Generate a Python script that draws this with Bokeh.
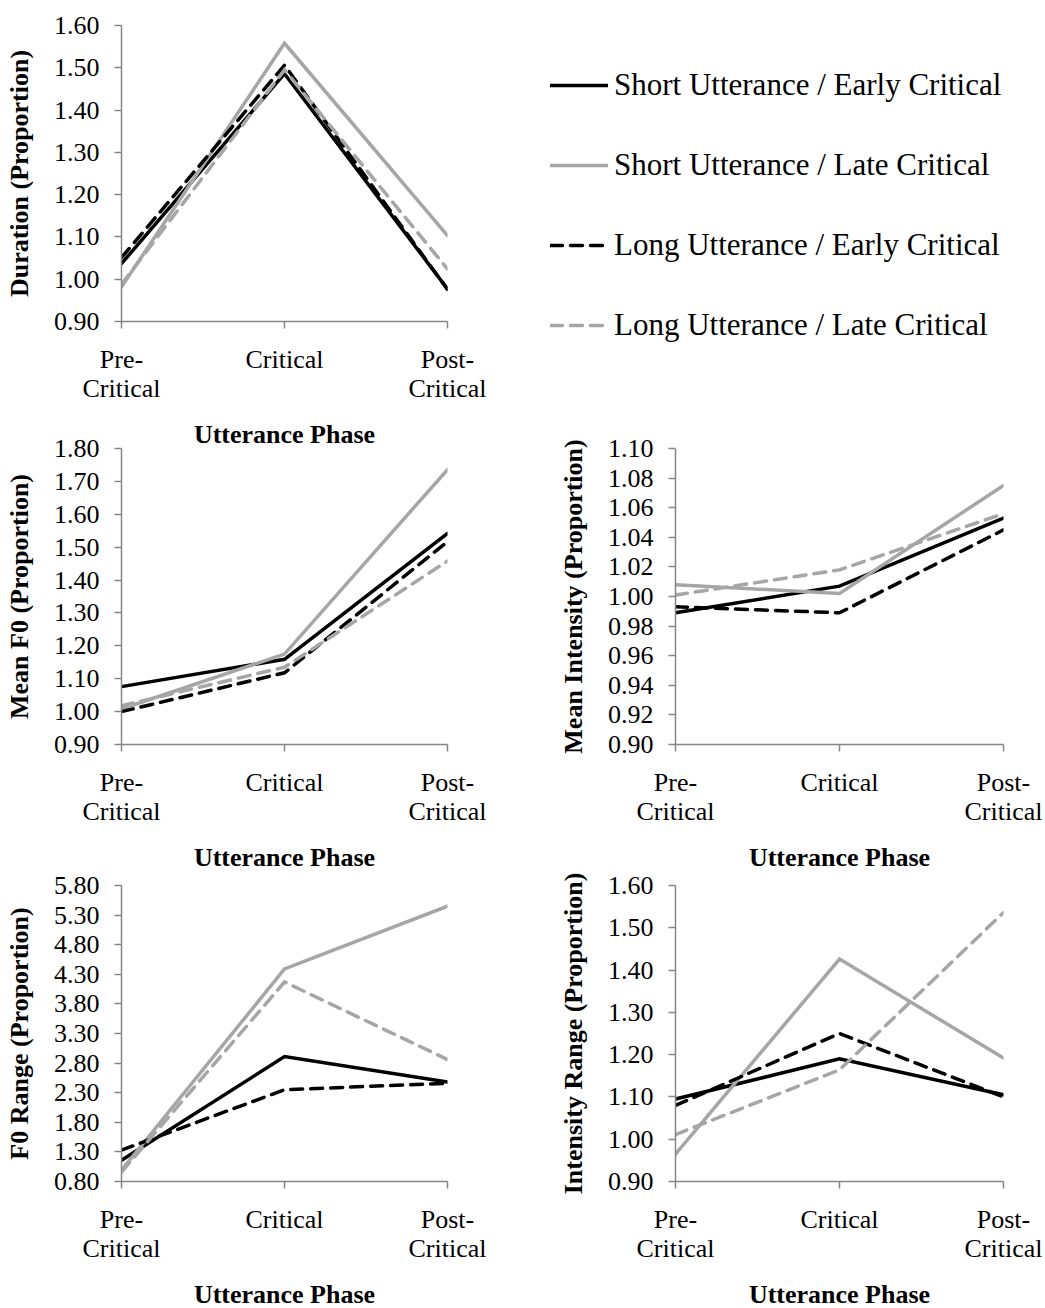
from bokeh.plotting import figure
from bokeh.layouts import column, row
from bokeh.models import (FixedTicker, NumeralTickFormatter, Legend, LegendItem,
                          Range1d)
from bokeh.embed import file_html
from bokeh.resources import INLINE

# ---- data -------------------------------------------------------------
phases = ["Pre-\nCritical", "Critical", "Post-\nCritical"]
series_names = [
    "Short Utterance / Early Critical",
    "Short Utterance / Late Critical",
    "Long Utterance / Early Critical",
    "Long Utterance / Late Critical",
]

# Duration (proportion)
duration_se = [1.037, 1.486, 0.977]
duration_sl = [0.982, 1.558, 1.103]
duration_le = [1.051, 1.506, 0.976]
duration_ll = [0.988, 1.495, 1.024]
duration_ticks = [0.90, 1.00, 1.10, 1.20, 1.30, 1.40, 1.50, 1.60]

# Mean F0 (proportion)
meanf0_se = [1.076, 1.159, 1.542]
meanf0_sl = [1.008, 1.175, 1.736]
meanf0_le = [1.000, 1.118, 1.517]
meanf0_ll = [1.018, 1.135, 1.458]
meanf0_ticks = [0.90, 1.00, 1.10, 1.20, 1.30, 1.40, 1.50, 1.60, 1.70, 1.80]

# Mean intensity (proportion)
meanint_se = [0.989, 1.007, 1.053]
meanint_sl = [1.008, 1.002, 1.075]
meanint_le = [0.993, 0.989, 1.045]
meanint_ll = [1.001, 1.018, 1.056]
meanint_ticks = [0.90, 0.92, 0.94, 0.96, 0.98, 1.00, 1.02, 1.04, 1.06, 1.08, 1.10]

# F0 range (proportion)
f0range_se = [1.16, 2.91, 2.48]
f0range_sl = [0.99, 4.39, 5.45]
f0range_le = [1.33, 2.35, 2.46]
f0range_ll = [0.96, 4.17, 2.86]
f0range_ticks = [0.80, 1.30, 1.80, 2.30, 2.80, 3.30, 3.80, 4.30, 4.80, 5.30, 5.80]

# Intensity range (proportion)
intrange_se = [1.095, 1.190, 1.105]
intrange_sl = [0.965, 1.426, 1.192]
intrange_le = [1.080, 1.250, 1.100]
intrange_ll = [1.011, 1.164, 1.536]
intrange_ticks = [0.90, 1.00, 1.10, 1.20, 1.30, 1.40, 1.50, 1.60]

# ---- styling ----------------------------------------------------------
SERIF = "Liberation Serif"
AXIS_GREY = "#868686"
BLACK = "#000000"
LIGHT = "#a6a6a6"
series_colors = [BLACK, LIGHT, BLACK, LIGHT]
series_dashes = ["solid", "solid", "12 8", "12 8"]
LINE_W = 3.5


def panel(series, ylabel, yticks, left, frame_w, right, top, bottom):
    xs = list(range(len(phases)))
    p = figure(output_backend="svg", toolbar_location=None,
               frame_width=frame_w, frame_height=296,
               min_border_left=left, min_border_right=right,
               min_border_top=top, min_border_bottom=bottom,
               x_range=Range1d(0, len(phases) - 1),
               y_range=Range1d(yticks[0], yticks[-1]),
               background_fill_color=None, border_fill_color=None,
               outline_line_color=None)
    p.xgrid.visible = False
    p.ygrid.visible = False

    renderers = []
    for ys, col, dash in zip(series, series_colors, series_dashes):
        r = p.line(xs, ys, line_color=col, line_width=LINE_W,
                   line_dash=dash, line_join="miter", line_cap="round")
        renderers.append(r)

    p.xaxis.ticker = FixedTicker(ticks=xs)
    p.xaxis.major_label_overrides = {i: lab for i, lab in zip(xs, phases)}
    p.yaxis.ticker = FixedTicker(ticks=yticks)
    p.yaxis.formatter = NumeralTickFormatter(format="0.00")

    for ax in (p.xaxis[0], p.yaxis[0]):
        ax.axis_line_color = AXIS_GREY
        ax.axis_line_width = 1.5
        ax.major_tick_line_color = AXIS_GREY
        ax.major_tick_line_width = 1.5
        ax.major_tick_out = 7
        ax.major_tick_in = 0
        ax.minor_tick_line_color = None
        ax.major_label_text_font = SERIF
        ax.major_label_text_font_size = "26px"
        ax.major_label_text_color = BLACK
        ax.axis_label_text_font = SERIF
        ax.axis_label_text_font_style = "bold"
        ax.axis_label_text_font_size = "26px"
        ax.axis_label_text_color = BLACK

    p.xaxis.axis_label = "Utterance Phase"
    p.xaxis.major_label_standoff = 16
    p.xaxis.major_label_text_line_height = 1.0
    p.xaxis.axis_label_standoff = 14
    p.yaxis.axis_label = ylabel
    p.yaxis.major_label_standoff = 15
    p.yaxis.axis_label_standoff = 17
    return p, renderers


# Duration panel, with the key for the four conditions in its right margin
p1, r1 = panel([duration_se, duration_sl, duration_le, duration_ll],
               "Duration (Proportion)", duration_ticks,
               121, 326, 598, 25, 140)
legend = Legend(
    items=[LegendItem(label=n, renderers=[r]) for n, r in zip(series_names, r1)],
    location=(103, -24), orientation="vertical",
    border_line_color=None, background_fill_alpha=0,
    padding=0, margin=0, spacing=40,
    glyph_width=58, glyph_height=40, label_height=40, label_standoff=6,
    label_text_font=SERIF, label_text_font_size="31px", label_text_color=BLACK,
)
p1.add_layout(legend, "right")

p2, _ = panel([meanf0_se, meanf0_sl, meanf0_le, meanf0_ll],
              "Mean F0 (Proportion)", meanf0_ticks,
              121, 326, 93, 20, 140)
p3, _ = panel([meanint_se, meanint_sl, meanint_le, meanint_ll],
              "Mean Intensity (Proportion)", meanint_ticks,
              135, 328, 42, 20, 140)
p4, _ = panel([f0range_se, f0range_sl, f0range_le, f0range_ll],
              "F0 Range (Proportion)", f0range_ticks,
              121, 326, 93, 20, 127)
p5, _ = panel([intrange_se, intrange_sl, intrange_le, intrange_ll],
              "Intensity Range (Proportion)", intrange_ticks,
              135, 328, 42, 20, 127)

layout = column(
    p1,
    row(p2, p3, margin=(-33, 0, 0, 0)),
    row(p4, p5, margin=(-19, 0, 0, 0)),
)

open("out.html", "w").write(file_html(layout, INLINE))
